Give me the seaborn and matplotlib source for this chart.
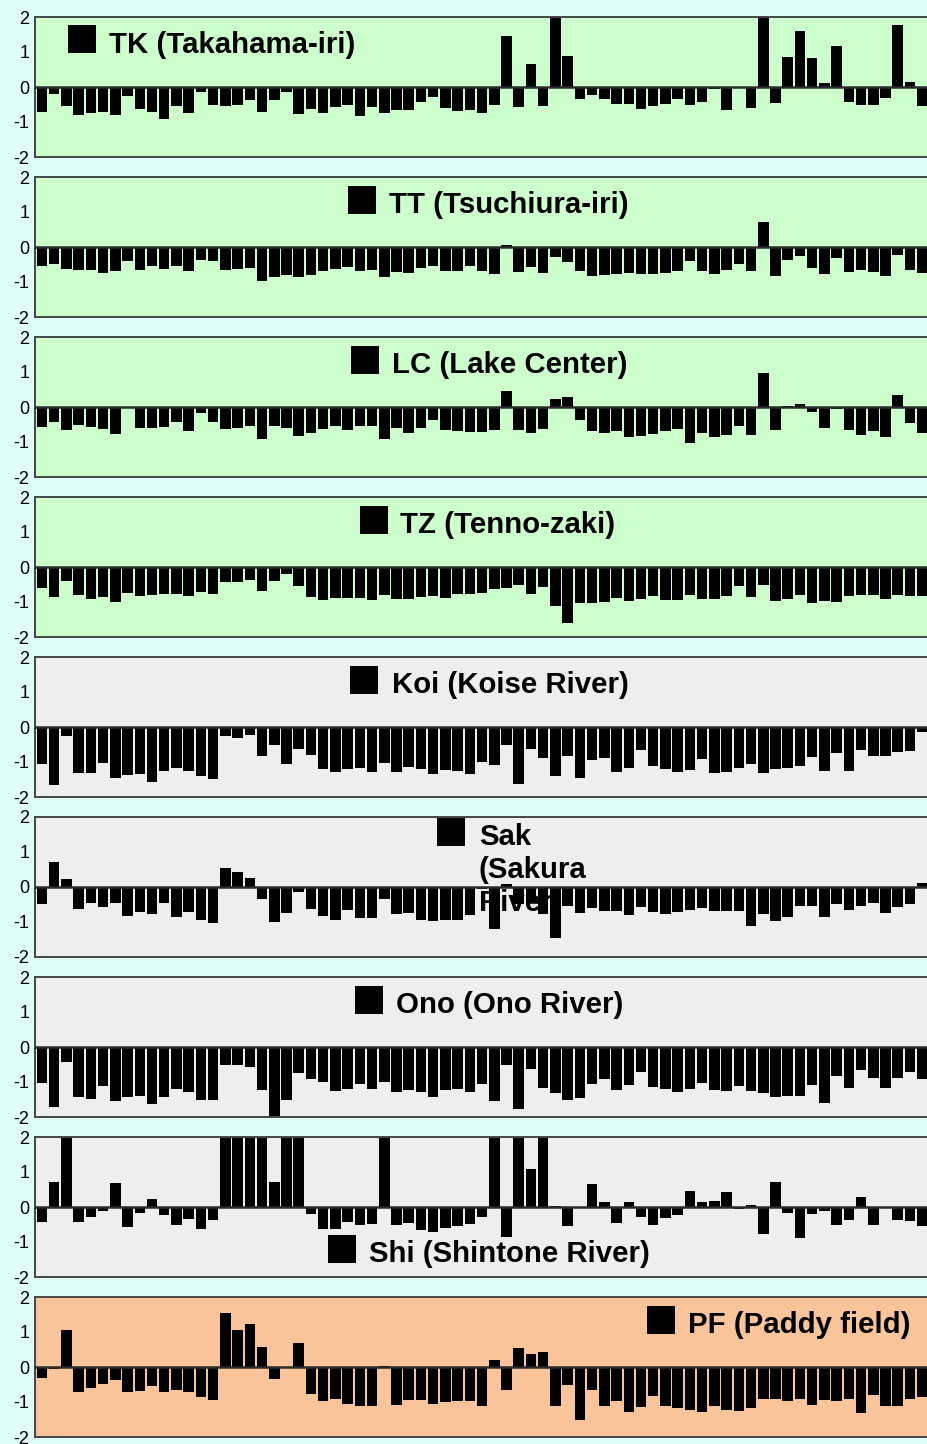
import numpy as np
import pandas as pd
import matplotlib
matplotlib.use("Agg")
import matplotlib.pyplot as plt
from matplotlib.patches import Rectangle
import seaborn as sns

plt.rcParams['axes.unicode_minus'] = False
plt.rcParams['font.family'] = ['Liberation Sans', 'DejaVu Sans']

# ---------------- data ----------------
months = list(range(73))
ytick_vals = [-2, -1, 0, 1, 2]
ytick_labels = ["-2", "-1", "0", "1", "2"]

TK = [-0.72, -0.20, -0.55, -0.80, -0.73, -0.70, -0.80, -0.25, -0.62, -0.72,
      -0.90, -0.53, -0.73, -0.15, -0.52, -0.55, -0.52, -0.38, -0.70, -0.38,
      -0.15, -0.78, -0.63, -0.73, -0.57, -0.52, -0.82, -0.57, -0.75, -0.67,
      -0.67, -0.43, -0.28, -0.60, -0.68, -0.67, -0.73, -0.50,
      1.45, -0.57, 0.65, -0.55, 2.00, 0.88,
      -0.33, -0.22, -0.33, -0.48, -0.48, -0.63, -0.55, -0.48, -0.35, -0.50,
      -0.42, -0.05, -0.65, 0.00, -0.60,
      2.00, -0.45, 0.85, 1.60, 0.83, 0.12, 1.18, -0.42, -0.50, -0.50,
      -0.30, 1.78, 0.13, -0.55]

TT = [-0.54, -0.48, -0.64, -0.66, -0.67, -0.73, -0.70, -0.39, -0.66, -0.55,
      -0.63, -0.54, -0.68, -0.37, -0.40, -0.66, -0.64, -0.59, -0.97, -0.85,
      -0.80, -0.86, -0.80, -0.70, -0.64, -0.57, -0.69, -0.66, -0.87, -0.72,
      -0.75, -0.61, -0.53, -0.69, -0.68, -0.53, -0.70, -0.78,
      0.05,
      -0.72, -0.58, -0.74, -0.28, -0.44, -0.70, -0.84, -0.80, -0.76, -0.74,
      -0.76, -0.76, -0.75, -0.70, -0.40, -0.70, -0.78, -0.66, -0.48, -0.70,
      0.72,
      -0.84, -0.38, -0.25, -0.60, -0.78, -0.30, -0.72, -0.66, -0.72, -0.82,
      -0.22, -0.65, -0.75]

LC = [-0.58, -0.42, -0.65, -0.52, -0.56, -0.63, -0.78, -0.03, -0.59, -0.61,
      -0.56, -0.44, -0.69, -0.16, -0.42, -0.63, -0.61, -0.53, -0.91, -0.53,
      -0.59, -0.83, -0.75, -0.64, -0.53, -0.66, -0.53, -0.53, -0.92, -0.61,
      -0.75, -0.59, -0.37, -0.65, -0.69, -0.70, -0.72, -0.66,
      0.45,
      -0.66, -0.73, -0.63, 0.22, 0.28, -0.38, -0.69, -0.73, -0.68, -0.85,
      -0.84, -0.76, -0.68, -0.62, -1.02, -0.74, -0.85, -0.81, -0.55, -0.79,
      0.98,
      -0.66, 0.02, 0.10, -0.14, -0.60, -0.07, -0.66, -0.81, -0.69, -0.85,
      0.33, -0.45, -0.73]

TZ = [-0.59, -0.85, -0.40, -0.80, -0.90, -0.85, -1.01, -0.75, -0.82, -0.80,
      -0.77, -0.77, -0.82, -0.70, -0.76, -0.42, -0.42, -0.38, -0.69, -0.40,
      -0.20, -0.53, -0.87, -0.94, -0.88, -0.88, -0.88, -0.94, -0.80, -0.90,
      -0.92, -0.85, -0.82, -0.88, -0.78, -0.76,
      -0.74, -0.63, -0.60, -0.52, -0.76, -0.56, -1.12,
      -1.61,
      -1.02, -1.02, -0.99, -0.88, -0.98, -0.91, -0.84, -0.93, -0.93, -0.79,
      -0.91, -0.91, -0.84, -0.55, -0.85, -0.52, -0.96, -0.92, -0.79, -1.03,
      -0.98, -1.00, -0.83, -0.80, -0.80, -0.90, -0.79, -0.82, -0.82]

Koi = [-1.07, -1.66, -0.26, -1.30, -1.30, -1.03, -1.46, -1.38, -1.34, -1.57,
       -1.27, -1.17, -1.26, -1.39, -1.49, -0.25, -0.30, -0.24, -0.83, -0.50,
       -1.07, -0.62, -0.81, -1.21, -1.28, -1.19, -1.16, -1.29, -1.02, -1.29,
       -1.15, -1.19, -1.34, -1.24, -1.25, -1.35,
       -1.00, -1.09, -0.51, -1.64, -0.63, -0.88, -1.39, -0.82, -1.45, -0.95,
       -0.88, -1.28, -1.16, -0.65, -1.10, -1.20, -1.28, -1.24, -0.90, -1.30,
       -1.28, -1.16, -1.06, -1.32, -1.20, -1.18, -1.11, -0.86, -1.25, -0.74,
       -1.27, -0.66, -0.82, -0.83, -0.70, -0.69, -0.15]

Sak = [-0.50, 0.72, 0.22, -0.62, -0.45, -0.58, -0.45, -0.82, -0.72, -0.77,
       -0.47, -0.85, -0.72, -0.95, -1.03, 0.55, 0.44, 0.25, -0.35, -1.00,
       -0.75, -0.15, -0.62, -0.83, -0.93, -0.67, -0.90, -0.90, -0.33, -0.78,
       -0.73, -0.95, -0.97, -0.93, -0.93, -0.80,
       -0.05, -1.19, 0.08, -0.50, -0.45, -0.76, -1.45,
       -0.55, -0.73, -0.60, -0.68, -0.68, -0.80, -0.57, -0.71, -0.78, -0.71,
       -0.67, -0.60, -0.68, -0.68, -0.68, -1.12, -0.78, -0.98, -0.85, -0.55,
       -0.55, -0.86, -0.50, -0.66, -0.53, -0.45, -0.75, -0.56, -0.50, 0.10]

Ono = [-1.02, -1.71, -0.42, -1.44, -1.49, -1.11, -1.53, -1.44, -1.40, -1.62,
       -1.42, -1.19, -1.28, -1.50, -1.50, -0.51, -0.51, -0.56, -1.24, -2.00,
       -1.50, -0.73, -0.90, -0.99, -1.26, -1.20, -1.05, -1.20, -0.99, -1.29,
       -1.22, -1.28, -1.42, -1.22, -1.20, -1.28,
       -1.07, -1.53, -0.51, -1.78, -0.64, -1.16, -1.30, -1.52, -1.47, -1.07,
       -0.92, -1.23, -1.09, -0.70, -1.15, -1.21, -1.28, -1.21, -1.02, -1.23,
       -1.26, -1.10, -1.26, -1.32, -1.44, -1.39, -1.39, -1.09, -1.59, -0.83,
       -1.16, -0.67, -0.88, -1.18, -0.88, -0.72, -0.92]

Shi = [-0.42, 0.72, 2.00, -0.42, -0.28, -0.10, 0.70, -0.58, -0.18, 0.24,
       -0.22, -0.52, -0.33, -0.63, -0.38, 2.00, 2.00, 2.00, 2.00, 0.72,
       2.00, 2.00,
       -0.20, -0.63, -0.62, -0.42, -0.50, -0.48, 2.00, -0.50, -0.47, -0.65,
       -0.70, -0.60, -0.55, -0.48, -0.28, 2.00,
       -0.85, 2.00, 1.10, 2.00, 0.04, -0.55, 0.00, 0.67, 0.15, -0.47,
       0.15, -0.28, -0.50, -0.32, -0.22, 0.47, 0.13, 0.17, 0.43, -0.05,
       0.05, -0.77, 0.72, -0.17, -0.88, -0.20, -0.12, -0.52, -0.38, 0.30,
       -0.50, 0.00, -0.38, -0.40, -0.55]

PF = [-0.30, -0.05, 1.07, -0.72, -0.60, -0.48, -0.38, -0.72, -0.68, -0.55,
      -0.70, -0.67, -0.70, -0.85, -0.95, 1.55, 1.05, 1.22, 0.58, -0.33,
      0.00, 0.70, -0.78, -0.98, -0.90, -1.05, -1.10, -1.10, 0.03,
      -1.08, -0.95, -0.95, -1.05, -1.00, -0.97, -0.97, -1.10,
      0.20, -0.65, 0.55, 0.38, 0.42, -1.10, -0.52, -1.50, -0.67, -1.10,
      -0.97, -1.28, -1.15, -0.82, -1.10, -1.18, -1.22, -1.28, -1.10, -1.22,
      -1.25, -1.18, -0.92, -0.92, -0.98, -0.92, -1.08, -0.95, -0.98, -0.92,
      -1.30, -0.80, -1.10, -1.10, -0.90, -0.85]

site_labels = ["TK (Takahama-iri)", "TT (Tsuchiura-iri)", "LC (Lake Center)",
               "TZ (Tenno-zaki)", "Koi (Koise River)", "Sak\n(Sakura\nRiver)",
               "Ono (Ono River)", "Shi (Shintone River)", "PF (Paddy field)"]
series = [TK, TT, LC, TZ, Koi, Sak, Ono, Shi, PF]

# ---------------- style / layout ----------------
W, H = 928, 1444
FIG_BG = "#DFFFF9"
GREEN = "#CCFFCC"
GREY = "#EEEEEE"
PEACH = "#F9C49A"
panel_colors = [GREEN, GREEN, GREEN, GREEN, GREY, GREY, GREY, GREY, PEACH]
# legend placement in pixels: (square left x, square top offset, text x, baseline offset)
legend_pos = [(68, 8, 109, 36), (348, 9, 389, 36), (351, 9, 392, 36),
              (360, 9, 400, 36), (350, 9, 392, 36), (437, 1, 479, 28),
              (355, 9, 396, 36), (328, 98, 369, 125), (647, 9, 688, 36)]

AX_L, AX_W, AX_H, TOP0, STEP = 35, 895, 140, 17, 160
SQ = 28
LINE_H = 33

fig = plt.figure(figsize=(W / 100, H / 100), dpi=100, facecolor=FIG_BG)

for k, (vals, lab, col, lp) in enumerate(zip(series, site_labels, panel_colors, legend_pos)):
    top = TOP0 + STEP * k
    ax = fig.add_axes([AX_L / W, 1 - (top + AX_H) / H, AX_W / W, AX_H / H])
    ax.set_facecolor(col)
    df = pd.DataFrame({"month": months, "value": vals})
    sns.barplot(data=df, x="month", y="value", color="black", saturation=1,
                width=0.86, linewidth=0, ax=ax, zorder=2)
    ax.set_xlim(-0.57, 72.64)
    ax.set_ylim(-2, 2)
    ax.axhline(0, color="#2a2a2a", lw=1.8, zorder=3)
    ax.set_xticks([])
    ax.set_yticks(ytick_vals)
    ax.set_yticklabels(ytick_labels)
    ax.tick_params(axis="y", length=0, pad=4, labelsize=13, colors="black")
    ax.set_xlabel("")
    ax.set_ylabel("")
    for s in ["left", "top", "bottom"]:
        ax.spines[s].set_color("#454545")
        ax.spines[s].set_linewidth(1.4)
    ax.spines["right"].set_visible(False)

    sx, soff, tx, boff = lp
    ax.add_patch(Rectangle(((sx - AX_L) / AX_W, 1 - (soff + SQ) / AX_H),
                           SQ / AX_W, SQ / AX_H, transform=ax.transAxes,
                           facecolor="black", edgecolor="none", zorder=1,
                           clip_on=False))
    for j, line in enumerate(lab.split("\n")):
        ax.text((tx - AX_L) / AX_W, 1 - (boff + j * LINE_H) / AX_H, line,
                transform=ax.transAxes, ha="left", va="baseline",
                fontsize=21.2, fontweight="bold", color="black", zorder=1)

fig.savefig("out.png", dpi=100, facecolor=FIG_BG)
